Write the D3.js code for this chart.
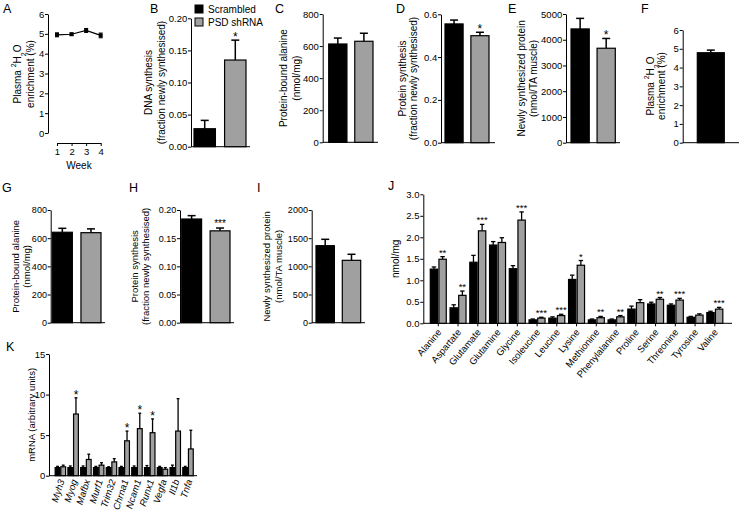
<!DOCTYPE html>
<html><head><meta charset="utf-8">
<script src="https://cdn.jsdelivr.net/npm/d3@7"></script>
<style>
body{margin:0;background:#fff}
svg{font-family:"Liberation Sans",Arial,sans-serif}
</style></head>
<body><svg id="c" width="739" height="513"></svg>
<script>
// ---------- data ----------
const groups = ["Scrambled", "PSD shRNA"];
const aWeeks = [1, 2, 3, 4];
const aMean = [4.95, 4.98, 5.17, 4.92];
const aErr = [0.1, 0.06, 0.1, 0.12];
const bMean = [0.028, 0.135], bErr = [0.013, 0.031], bStars = ["", "*"];
const cMean = [613, 630], cErr = [37, 50], cStars = ["", ""];
const dMean = [0.555, 0.500], dErr = [0.018, 0.016], dStars = ["", "*"];
const eMean = [4420, 3670], eErr = [410, 380], eStars = ["", "*"];
const fMean = [4.79], fErr = [0.14];
const gMean = [642, 639], gErr = [28, 27], gStars = ["", ""];
const hMean = [0.184, 0.163], hErr = [0.006, 0.005], hStars = ["", "***"];
const iMean = [1367, 1107], iErr = [113, 107], iStars = ["", ""];

const aminoAcids = ["Alanine","Aspartate","Glutamate","Glutamine","Glycine","Isoleucine","Leucine","Lysine","Methionine","Phenylalanine","Proline","Serine","Threonine","Tyrosine","Valine"];
const jScr    = [1.26, 0.36, 1.42, 1.82, 1.27, 0.08, 0.12, 1.02, 0.08, 0.08, 0.33, 0.45, 0.42, 0.14, 0.25];
const jScrErr = [0.05, 0.07, 0.16, 0.08, 0.07, 0.02, 0.03, 0.10, 0.02, 0.02, 0.07, 0.04, 0.03, 0.02, 0.03];
const jPsd    = [1.49, 0.65, 2.15, 1.88, 2.40, 0.12, 0.18, 1.35, 0.13, 0.15, 0.48, 0.56, 0.54, 0.19, 0.33];
const jPsdErr = [0.06, 0.10, 0.15, 0.11, 0.19, 0.02, 0.03, 0.11, 0.03, 0.03, 0.07, 0.04, 0.04, 0.03, 0.04];
const jStars  = ["**","**","***","","***","***","***","*","**","**","","**","***","","***"];

const genes = ["Myh3","Myog","Mafbx","Murf1","Trim32","Chrna1","Ncam1","Runx1","Vegfa","Il1b","Tnfa"];
const kScr    = [1.0, 1.0, 1.0, 1.0, 1.0, 1.0, 1.0, 1.0, 1.0, 1.0, 1.0];
const kScrErr = [0.15, 0.2, 0.2, 0.15, 0.1, 0.15, 0.2, 0.25, 0.15, 0.3, 0.15];
const kPsd    = [1.1, 7.6, 2.0, 1.3, 1.7, 4.3, 5.8, 5.3, 0.8, 5.5, 3.3];
const kPsdErr = [0.2, 2.0, 0.65, 0.3, 0.4, 1.2, 1.9, 1.7, 0.2, 4.0, 2.3];
const kStars  = ["","*","","","","*","*","*","","",""];

// ---------- drawing ----------
const svg = d3.select("#c");
const fills = ["#000000", "#a0a0a0"];
const TF = 9.5;

function letter(t, x, y) {
  svg.append("text").attr("x", x).attr("y", y).attr("font-size", 12.5).text(t);
}
function yLabel(lines, xs, cy, size) {
  lines.forEach((l, i) => {
    const t = svg.append("text")
      .attr("transform", `translate(${xs[i]},${cy}) rotate(-90)`)
      .attr("text-anchor", "middle").attr("dominant-baseline", "central")
      .attr("font-size", size || 10);
    if (Array.isArray(l)) {
      l.forEach(p => {
        const ts = t.append("tspan").text(p.t);
        if (p.sup) ts.attr("font-size", 7).attr("dy", -4);
        if (p.sub) ts.attr("font-size", 7).attr("dy", 6);
        if (p.back) ts.attr("dy", p.back);
      });
    } else t.text(l);
  });
}
function yAxis(scale, x, ticks, fmt, fs) {
  const g = svg.append("g").attr("transform", `translate(${x},0)`)
    .call(d3.axisLeft(scale).tickValues(ticks).tickFormat(fmt).tickSize(3).tickSizeOuter(0).tickPadding(0.8));
  g.selectAll("text").attr("font-size", fs || TF).attr("font-family", "Liberation Sans, Arial, sans-serif").attr("fill", "#000");
  g.selectAll("line,path").attr("stroke", "#000").attr("stroke-width", 1);
  return g;
}
function xLine(x0, x1, y) {
  svg.append("line").attr("x1", x0).attr("x2", x1).attr("y1", y).attr("y2", y).attr("stroke", "#000").attr("stroke-width", 1);
}
function bar(x, w, y, y0, fill) {
  svg.append("rect").attr("x", x).attr("width", w).attr("y", y).attr("height", y0 - y)
    .attr("fill", fill).attr("stroke", "#000").attr("stroke-width", 1.2);
}
function errBar(cx, yv, ye, cap, sw) {
  svg.append("line").attr("x1", cx).attr("x2", cx).attr("y1", yv).attr("y2", ye).attr("stroke", "#000").attr("stroke-width", sw || 1.5);
  svg.append("line").attr("x1", cx - cap / 2).attr("x2", cx + cap / 2).attr("y1", ye).attr("y2", ye).attr("stroke", "#000").attr("stroke-width", sw || 1.5);
}
function star(cx, y, s, size) {
  if (!s) return;
  svg.append("text").attr("x", cx).attr("y", y).attr("text-anchor", "middle").attr("font-size", size || 11).text(s);
}

function twoBarPanel(c) {
  const y = d3.scaleLinear().domain([0, c.max]).range([c.yBot, c.yTop]);
  const x = d3.scaleBand().domain(c.cats || groups).range([c.bandL, c.bandR]).paddingInner(0.3);
  yAxis(y, c.axisX, c.ticks, d3.format(c.fmt), c.tfs);
  xLine(c.axisX, c.xEnd, c.yBot);
  (c.cats || groups).forEach((g, i) => {
    const bw = x.bandwidth();
    bar(x(g), bw, y(c.mean[i]), y(0), fills[i]);
    errBar(x(g) + bw / 2, y(c.mean[i]), y(c.mean[i] + c.err[i]), Math.min(8, bw * 0.6));
    if (c.stars) star(x(g) + bw / 2, y(c.mean[i] + c.err[i]) + (c.stars[i].length > 1 ? -1 : 1), c.stars[i], c.stars[i].length > 1 ? 10 : 12);
  });
  yLabel(c.labels, c.labelX, c.labelY || (c.yTop + c.yBot) / 2, c.lfs);
  letter(c.letter, c.letterX, c.letterY);
}

// ---- Panel A ----
(function () {
  const y = d3.scaleLinear().domain([0, 6]).range([133, 14]);
  const x = d3.scaleLinear().domain([1, 4]).range([57, 100.7]);
  yAxis(y, 48, [0, 1, 2, 3, 4, 5, 6], d3.format("d"));
  const gx = svg.append("g").attr("transform", "translate(0,143)")
    .call(d3.axisBottom(x).tickValues(aWeeks).tickFormat(d3.format("d")).tickSize(3).tickSizeOuter(0).tickPadding(2));
  gx.selectAll("text").attr("font-size", TF).attr("font-family", "Liberation Sans, Arial, sans-serif");
  gx.selectAll("line,path").attr("stroke", "#000");
  svg.append("path").datum(aWeeks.map((w, i) => [x(w), y(aMean[i])]))
    .attr("d", d3.line()).attr("fill", "none").attr("stroke", "#000").attr("stroke-width", 1.2);
  aWeeks.forEach((w, i) => {
    errBar(x(w), y(aMean[i] - aErr[i]), y(aMean[i] + aErr[i]), 4, 1);
    svg.append("line").attr("x1", x(w) - 2).attr("x2", x(w) + 2).attr("y1", y(aMean[i] - aErr[i])).attr("y2", y(aMean[i] - aErr[i])).attr("stroke", "#000");
    svg.append("rect").attr("x", x(w) - 2).attr("y", y(aMean[i]) - 2).attr("width", 4).attr("height", 4).attr("fill", "#000");
  });
  svg.append("text").attr("x", 79).attr("y", 169).attr("text-anchor", "middle").attr("font-size", 10).text("Week");
  yLabel([[{t: "Plasma "}, {t: "2", sup: 1}, {t: "H", back: 4}, {t: "2", sub: 1}, {t: "O", back: -6}], "enrichment (%)"], [17, 30], 74);
  letter("A", 3, 13);
})();

// ---- Legend ----
groups.forEach((g, i) => {
  svg.append("rect").attr("x", 195).attr("y", 5 + i * 13).attr("width", 8).attr("height", 8)
    .attr("fill", fills[i]).attr("stroke", "#000").attr("stroke-width", 1);
  svg.append("text").attr("x", 208).attr("y", 12.5 + i * 13).attr("font-size", 10).text(g);
});

twoBarPanel({letter: "B", letterX: 150, letterY: 13, axisX: 191, yTop: 18.3, yBot: 146.7, max: 0.2, ticks: [0, 0.05, 0.1, 0.15, 0.2], fmt: ".2f",
  bandL: 194, bandR: 246, xEnd: 250, mean: bMean, err: bErr, stars: bStars, labels: ["DNA synthesis", "(fraction newly synthesised)"], labelX: [148, 161]});
twoBarPanel({letter: "C", letterX: 275, letterY: 13, axisX: 322.7, yTop: 14, yBot: 142.3, max: 800, ticks: [0, 200, 400, 600, 800], fmt: "d",
  bandL: 328.7, bandR: 373, xEnd: 378, mean: cMean, err: cErr, stars: cStars, labels: ["Protein-bound alanine", "(nmol/mg)"], labelX: [283, 296]});
twoBarPanel({letter: "D", letterX: 396, letterY: 13, axisX: 441, yTop: 14.3, yBot: 142.7, max: 0.6, ticks: [0, 0.2, 0.4, 0.6], fmt: ".1f",
  bandL: 445, bandR: 489, xEnd: 495, mean: dMean, err: dErr, stars: dStars, labels: ["Protein synthesis", "(fraction newly synthesised)"], labelX: [402, 413.5]});
twoBarPanel({letter: "E", letterX: 508, letterY: 13, axisX: 566, yTop: 14, yBot: 142.7, max: 5000, ticks: [0, 1000, 2000, 3000, 4000, 5000], fmt: "d",
  bandL: 571, bandR: 615.3, xEnd: 620, mean: eMean, err: eErr, stars: eStars, labels: ["Newly synthesized protein", "(nmol/TA muscle)"], labelX: [521.5, 533.5]});

// ---- Panel F ----
(function () {
  const y = d3.scaleLinear().domain([0, 6]).range([142.7, 30]);
  const x = d3.scaleBand().domain([groups[0]]).range([697.3, 724.3]);
  yAxis(y, 682.7, [0, 1, 2, 3, 4, 5, 6], d3.format("d"));
  xLine(682.7, 739, 142.7);
  bar(x(groups[0]), x.bandwidth(), y(fMean[0]), y(0), fills[0]);
  errBar(x(groups[0]) + x.bandwidth() / 2, y(fMean[0]), y(fMean[0] + fErr[0]), 8);
  yLabel([[{t: "Plasma "}, {t: "2", sup: 1}, {t: "H", back: 4}, {t: "2", sub: 1}, {t: "O", back: -6}], "enrichment (%)"], [649.5, 661], 86);
  letter("F", 641, 13);
})();

twoBarPanel({letter: "G", letterX: 2, letterY: 192, axisX: 50.7, yTop: 210, yBot: 322.7, max: 800, ticks: [0, 200, 400, 600, 800], fmt: "d", tfs: 9,
  bandL: 52.3, bandR: 101, xEnd: 105, mean: gMean, err: gErr, stars: gStars, labels: ["Protein-bound alanine", "(nmol/mg)"], labelX: [15.5, 26], lfs: 9.5});
twoBarPanel({letter: "H", letterX: 129, letterY: 192, axisX: 180, yTop: 210, yBot: 322.7, max: 0.2, ticks: [0, 0.05, 0.1, 0.15, 0.2], fmt: ".2f", tfs: 9,
  bandL: 181.7, bandR: 230, xEnd: 234, mean: hMean, err: hErr, stars: hStars, labels: ["Protein synthesis", "(fraction newly synthesised)"], labelX: [134, 145.5], lfs: 9.5});
twoBarPanel({letter: "I", letterX: 257, letterY: 192, axisX: 311.7, yTop: 210, yBot: 322.7, max: 2000, ticks: [0, 500, 1000, 1500, 2000], fmt: "d", tfs: 9,
  bandL: 316, bandR: 360.7, xEnd: 365, mean: iMean, err: iErr, stars: iStars, labels: ["Newly synthesized protein", "(nmol/TA muscle)"], labelX: [266, 278], lfs: 9.5});

// ---- grouped panels (J, K) ----
function groupedPanel(c) {
  const y = d3.scaleLinear().domain([0, c.max]).range([c.yBot, c.yTop]);
  const x = d3.scaleBand().domain(c.cats).range([c.bandL, c.bandR]).paddingInner(c.pin).paddingOuter(c.pin / 2);
  const xi = d3.scaleBand().domain(groups).range([0, x.bandwidth()]).paddingInner(0.15);
  yAxis(y, c.axisX, c.ticks, d3.format(c.fmt));
  xLine(c.axisX, c.xEnd, c.yBot);
  const bw = xi.bandwidth();
  c.cats.forEach((cat, k) => {
    const vals = [[c.m0[k], c.e0[k]], [c.m1[k], c.e1[k]]];
    vals.forEach((v, i) => {
      const bx = x(cat) + xi(groups[i]);
      bar(bx, bw, y(v[0]), y(0), fills[i]);
      errBar(bx + bw / 2, y(v[0]), y(v[0] + v[1]), bw * 0.6, 1.3);
    });
    star(x(cat) + xi(groups[1]) + bw / 2, y(c.m1[k] + c.e1[k]) + c.starDy, c.stars[k], c.starSize);
    const cx = x(cat) + x.bandwidth() / 2;
    if (c.tick) svg.append("line").attr("x1", cx).attr("x2", cx).attr("y1", c.yBot).attr("y2", c.yBot + 3).attr("stroke", "#000");
    svg.append("text").attr("transform", `translate(${cx + c.lblDx},${c.yBot + c.lblDy}) rotate(${c.rot})`)
      .attr("text-anchor", "end").attr("dominant-baseline", "central").attr("font-size", c.lblSize)
      .attr("font-style", c.italic ? "italic" : "normal").text(cat);
  });
  yLabel(c.labels, c.labelX, (c.yTop + c.yBot) / 2, c.lfs);
  letter(c.letter, c.letterX, c.letterY);
}

groupedPanel({letter: "J", letterX: 388, letterY: 190, axisX: 423.3, yTop: 194.3, yBot: 323.3, max: 3, ticks: [0, 0.5, 1, 1.5, 2, 2.5, 3], fmt: ".1f",
  cats: aminoAcids, bandL: 428.4, bandR: 724.7, pin: 0.19, xEnd: 732, m0: jScr, e0: jScrErr, m1: jPsd, e1: jPsdErr, stars: jStars,
  starDy: -1, starSize: 9.5, tick: true, rot: -50, lblDx: 1, lblDy: 7, lblSize: 9.5, italic: false, labels: ["nmol/mg"], labelX: [395]});

groupedPanel({letter: "K", letterX: 6, letterY: 351, axisX: 49, yTop: 354, yBot: 475.7, max: 15, ticks: [0, 5, 10, 15], fmt: "d",
  cats: genes, bandL: 54, bandR: 194.4, pin: 0.18, xEnd: 197, m0: kScr, e0: kScrErr, m1: kPsd, e1: kPsdErr, stars: kStars,
  starDy: 1, starSize: 12, tick: false, rot: -72, lblDx: 1, lblDy: 4, lblSize: 9.5, italic: true, labels: ["mRNA (arbitrary units)"], labelX: [31], lfs: 9.5});
</script>
</body></html>
